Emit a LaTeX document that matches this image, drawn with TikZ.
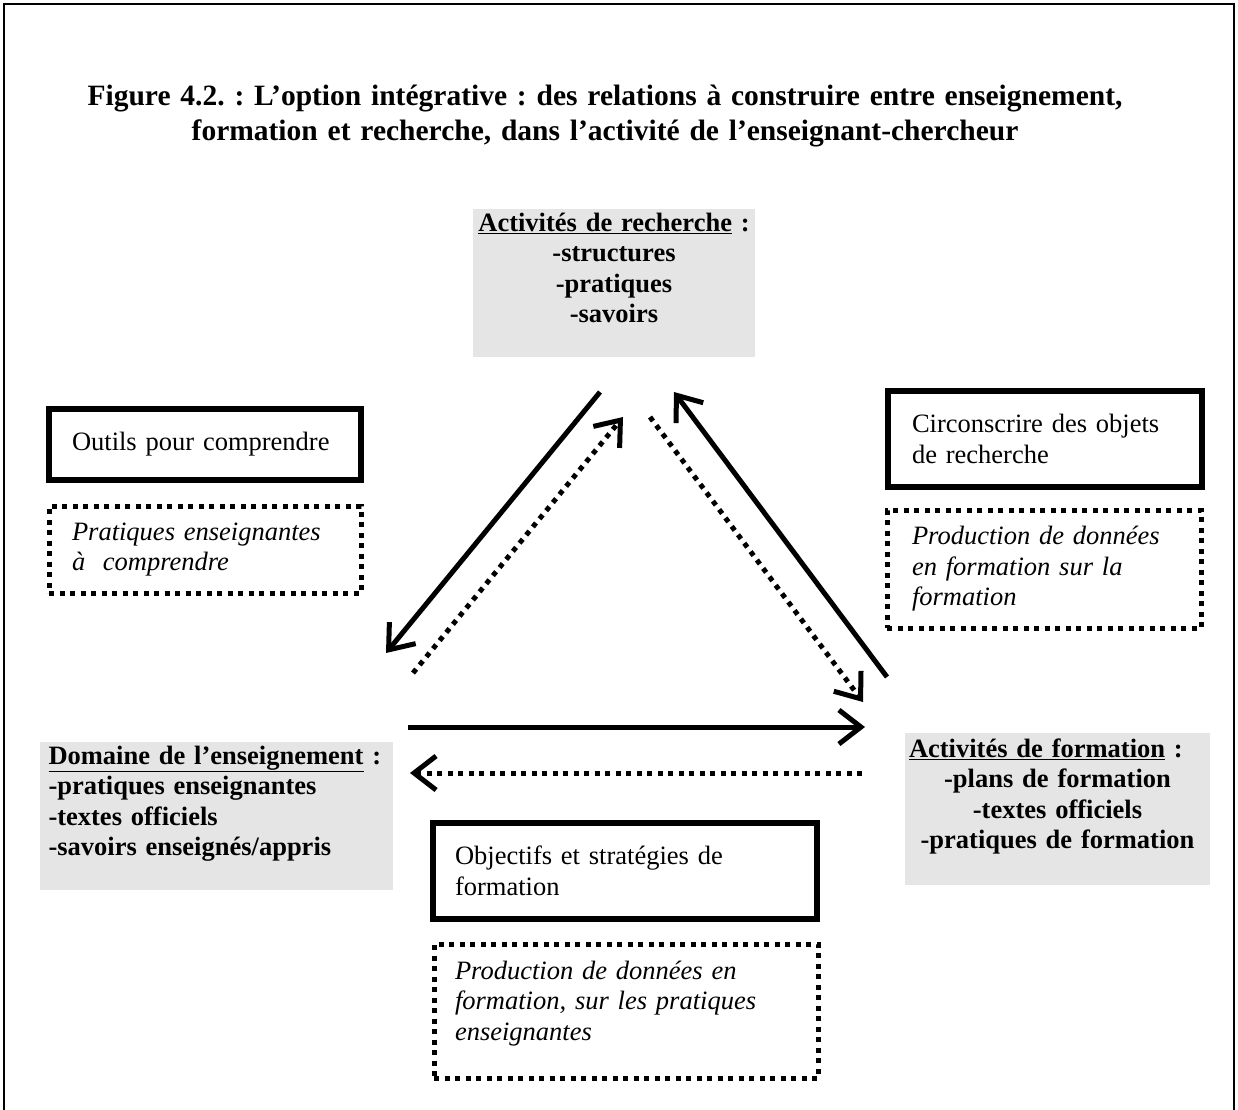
\documentclass[tikz,border=0pt]{standalone}
\usepackage{fontspec}
\setmainfont{Liberation Serif}
\usetikzlibrary{arrows.meta}
\frenchspacing
\begin{document}
\begin{tikzpicture}[x=1pt,y=-1pt,
  txt/.style={font=\fontsize{26.5}{30.5}\selectfont},
  solidbox/.style={txt, draw, line width=6pt, inner ysep=0pt, align=left},
  dotbox/.style={txt, draw, line width=5pt, dash pattern=on 5pt off 5.5pt, inner ysep=0pt, align=left},
  greybox/.style={fill=gray!20, inner sep=0pt, font=\bfseries\fontsize{26.5}{30.5}\selectfont},
  arr/.style={line width=5pt, -{Straight Barb[length=22pt,width=34pt]}},
  dotarr/.style={line width=5pt, dash pattern=on 5pt off 5.5pt, -{Straight Barb[length=22pt,width=34pt]}}
]
\useasboundingbox (0,0) rectangle (1238,1109);
% frame
\draw[line width=2pt] (4,1115) -- (4,4) -- (1234,4) -- (1234,1115);

% title
\node[font=\bfseries\fontsize{29.5}{35}\selectfont, text width=1150pt, align=center] (title) at (605,116)
  {Figure 4.2. : L’option intégrative : des relations à construire entre enseignement,\\
   formation et recherche, dans l’activité de l’enseignant-chercheur};

% grey boxes
\node[greybox, minimum width=282pt, minimum height=148pt, text width=282pt, align=center] (rech) at (614,283)
  {\underline{Activités de recherche} :\\-structures\\-pratiques\\-savoirs\\\mbox{}};
\node[greybox, minimum height=148pt, inner xsep=8.5pt, text width=336pt, align=left] (ens) at (216.5,816)
  {\underline{Domaine de l’enseignement} :\\-pratiques enseignantes\\-textes officiels\\-savoirs enseignés/appris\\\mbox{}};
\node[greybox, minimum width=305pt, minimum height=152pt, text width=305pt, align=center] (form) at (1057.5,809)
  {\makebox[305pt][l]{\hspace{4pt}\underline{Activités de formation} :}\\-plans de formation\\-textes officiels\\-pratiques de formation\\\mbox{}};

% solid boxes
\node[solidbox, minimum width=312pt, minimum height=71pt, inner xsep=23pt, text width=266pt] (outils) at (205,444.5)
  {Outils pour comprendre};
\node[solidbox, minimum width=314pt, minimum height=96pt, inner xsep=24pt, text width=266pt] (circ) at (1045,439)
  {Circonscrire des objets\\de recherche};
\node[solidbox, minimum width=384pt, minimum height=96pt, inner xsep=22pt, text width=340pt] (obj) at (625,871)
  {Objectifs et stratégies de\\formation};

% dotted boxes
\node[dotbox, minimum width=312pt, minimum height=87pt, inner xsep=23pt, text width=266pt] (prat) at (205,549.5)
  {\itshape Pratiques enseignantes\\à~ comprendre};
\node[dotbox, minimum width=314pt, minimum height=118pt, inner xsep=25pt, text width=264pt] (prodf) at (1044,569)
  {\itshape Production de données\\en formation sur la\\formation};
\node[dotbox, minimum width=384pt, minimum height=134pt, inner xsep=21pt, text width=342pt] (prode) at (626,1011)
  {\itshape Production de données en\\formation, sur les pratiques\\enseignantes\\[-10pt]\mbox{}};

% arrow end points
\coordinate (a1s) at (600,392); \coordinate (a1e) at (386,653);
\coordinate (a2s) at (413,673); \coordinate (a2e) at (623,417);
\coordinate (a3s) at (650,417); \coordinate (a3e) at (863,702);
\coordinate (a4s) at (887,677); \coordinate (a4e) at (674,392);
\coordinate (a5s) at (408,727); \coordinate (a5e) at (865,727);
\coordinate (a6s) at (862,773); \coordinate (a6e) at (410,773);

\draw[arr] (a1s) -- (a1e);
\draw[dotarr] (a2s) -- (a2e);
\draw[dotarr] (a3s) -- (a3e);
\draw[arr] (a4s) -- (a4e);
\draw[arr] (a5s) -- (a5e);
\draw[dotarr] (a6s) -- (a6e);
\end{tikzpicture}
\end{document}
